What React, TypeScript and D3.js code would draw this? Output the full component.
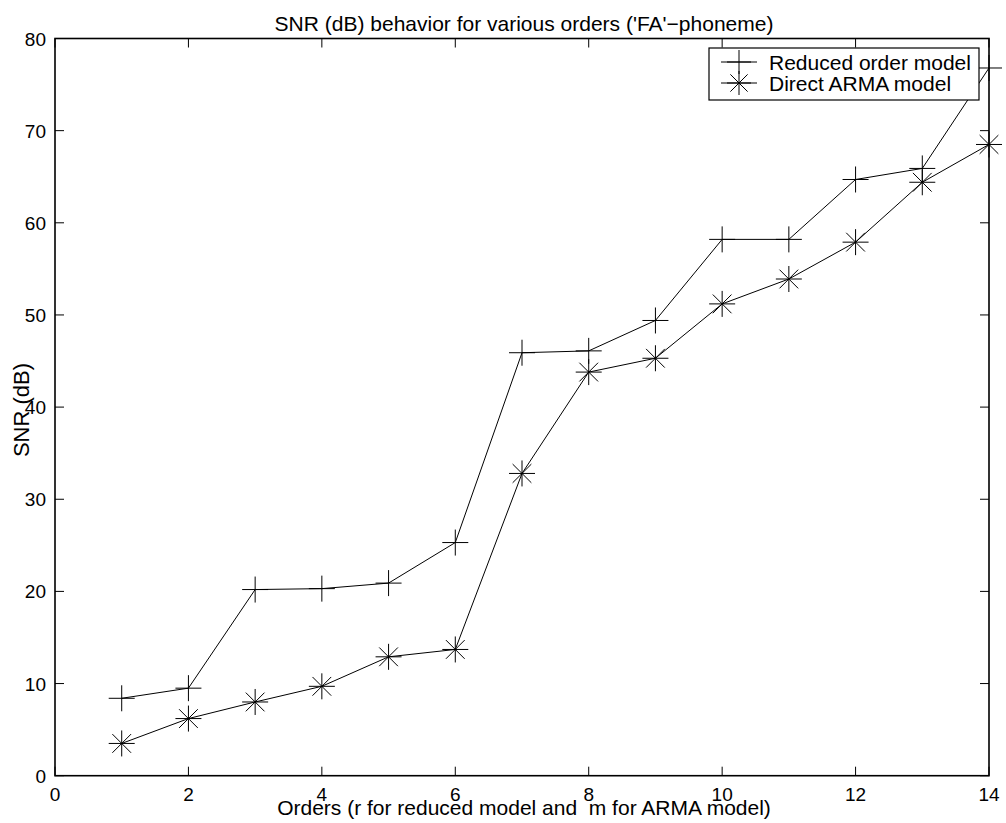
import React from "react";
import * as d3 from "d3";

const orders = [1, 2, 3, 4, 5, 6, 7, 8, 9, 10, 11, 12, 13, 14];
const reducedSNR = [8.4, 9.5, 20.2, 20.3, 20.9, 25.3, 45.9, 46.1, 49.4, 58.2, 58.2, 64.7, 65.9, 76.8];
const armaSNR = [3.5, 6.2, 8.0, 9.7, 12.9, 13.7, 32.8, 43.8, 45.3, 51.2, 53.9, 57.9, 64.4, 68.5];
const xTicks = [0, 2, 4, 6, 8, 10, 12, 14];
const yTicks = [0, 10, 20, 30, 40, 50, 60, 70, 80];
const seriesNames = ["Reduced order model", "Direct ARMA model"];

const W = 1006, H = 823;
const L = 55, R = 989, T = 38.5, B = 775.7;
const font = "'Liberation Sans', Arial, Helvetica, sans-serif";

function Plus({ x, y, s }: { x: number; y: number; s: number }) {
  return (
    <g stroke="#000" strokeWidth={1}>
      <line x1={x - s} y1={y} x2={x + s} y2={y} />
      <line x1={x} y1={y - s} x2={x} y2={y + s} />
    </g>
  );
}
function Star({ x, y, s }: { x: number; y: number; s: number }) {
  const d = s * 0.72;
  return (
    <g stroke="#000" strokeWidth={1}>
      <line x1={x - s} y1={y} x2={x + s} y2={y} />
      <line x1={x} y1={y - s} x2={x} y2={y + s} />
      <line x1={x - d} y1={y - d} x2={x + d} y2={y + d} />
      <line x1={x - d} y1={y + d} x2={x + d} y2={y - d} />
    </g>
  );
}

export default function App() {
  const x = d3.scaleLinear().domain([0, 14]).range([L, R]);
  const y = d3.scaleLinear().domain([0, 80]).range([B, T]);
  const line = d3.line<[number, number]>().x(d => x(d[0])).y(d => y(d[1]));
  const red: [number, number][] = orders.map((o, i) => [o, reducedSNR[i]]);
  const arma: [number, number][] = orders.map((o, i) => [o, armaSNR[i]]);
  const tk = 9;
  return (
    <svg width={W} height={H} style={{ position: "absolute", left: 0, top: 0, background: "#fff" }}>
      <rect x={0} y={0} width={W} height={H} fill="#fff" />
      <rect x={L} y={T} width={R - L} height={B - T} fill="none" stroke="#000" strokeWidth={1.6} />
      {xTicks.map(t => (
        <g key={"xt" + t}>
          <line x1={x(t)} x2={x(t)} y1={B} y2={B - tk} stroke="#000" strokeWidth={1} />
          <line x1={x(t)} x2={x(t)} y1={T} y2={T + tk} stroke="#000" strokeWidth={1} />
          <text x={x(t)} y={801} fontFamily={font} fontSize={19} textAnchor="middle">{t}</text>
        </g>
      ))}
      {yTicks.map(t => (
        <g key={"yt" + t}>
          <line x1={L} x2={L + tk} y1={y(t)} y2={y(t)} stroke="#000" strokeWidth={1} />
          <line x1={R} x2={R - tk} y1={y(t)} y2={y(t)} stroke="#000" strokeWidth={1} />
          <text x={46} y={y(t) + 7} fontFamily={font} fontSize={19} textAnchor="end">{t}</text>
        </g>
      ))}
      <path d={line(red) || ""} fill="none" stroke="#000" strokeWidth={1} />
      <path d={line(arma) || ""} fill="none" stroke="#000" strokeWidth={1} />
      {red.map((d, i) => <Plus key={"p" + i} x={x(d[0])} y={y(d[1])} s={13} />)}
      {arma.map((d, i) => <Star key={"s" + i} x={x(d[0])} y={y(d[1])} s={13} />)}
      <text x={524} y={31} fontFamily={font} fontSize={21} textAnchor="middle">
        SNR (dB) behavior for various orders ('FA'−phoneme)
      </text>
      <text x={524} y={815} fontFamily={font} fontSize={21} textAnchor="middle" style={{ whiteSpace: "pre" }}>
        {"Orders (r for reduced model and  m for ARMA model)"}
      </text>
      <text transform="translate(29,410) rotate(-90)" fontFamily={font} fontSize={22} textAnchor="middle">
        SNR (dB)
      </text>
      <rect x={709} y={48} width={270} height={52} fill="#fff" stroke="#000" strokeWidth={1.2} />
      <line x1={721} x2={757} y1={62} y2={62} stroke="#000" strokeWidth={1} />
      <Plus x={739} y={62} s={12} />
      <text x={769} y={69.5} fontFamily={font} fontSize={21}>{seriesNames[0]}</text>
      <line x1={721} x2={757} y1={83} y2={83} stroke="#000" strokeWidth={1} />
      <Star x={739} y={83} s={12} />
      <text x={769} y={91} fontFamily={font} fontSize={21}>{seriesNames[1]}</text>
    </svg>
  );
}
